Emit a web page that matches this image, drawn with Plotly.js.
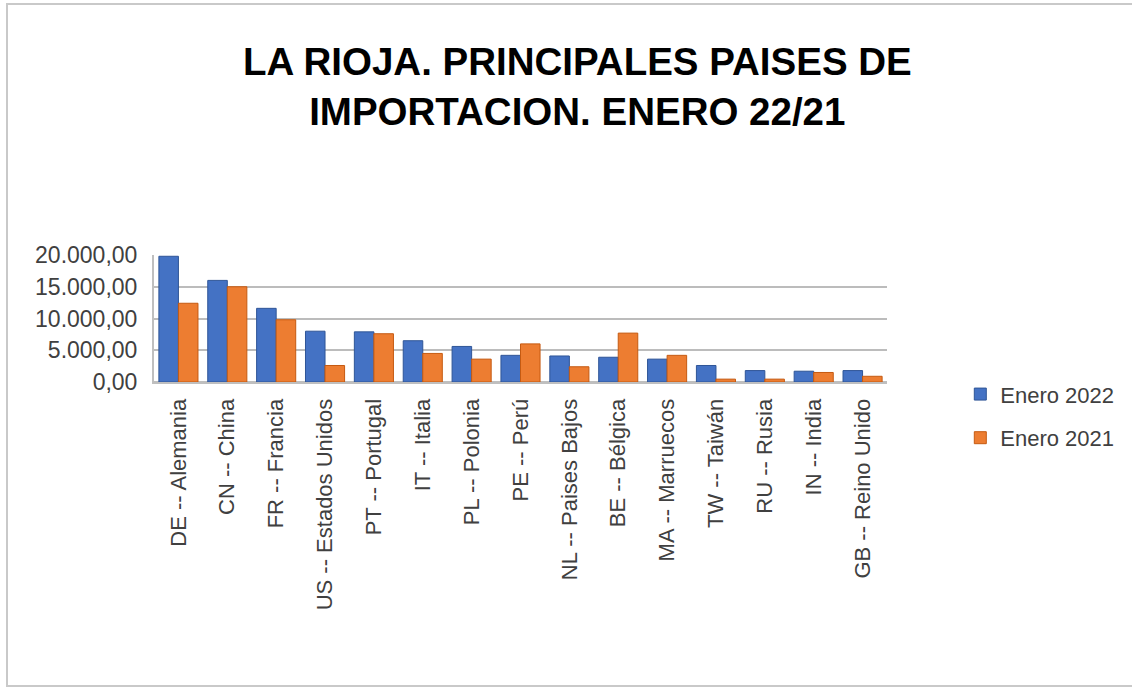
<!DOCTYPE html>
<html>
<head>
<meta charset="utf-8">
<script src="https://cdn.plot.ly/plotly-3.0.1.min.js"></script>
<style>
  html, body { margin: 0; padding: 0; background: #ffffff; }
  #chart { width: 1132px; height: 689px; }
  #frame { position: absolute; left: 6px; top: 3px; width: 1140px; height: 684px;
           border: 2px solid #c9c9c9; box-sizing: border-box; pointer-events: none; }
</style>
</head>
<body>
<div id="chart"></div>
<div id="frame"></div>
<script>
const categories = [
  "DE -- Alemania", "CN -- China", "FR -- Francia", "US -- Estados Unidos",
  "PT -- Portugal", "IT -- Italia", "PL -- Polonia", "PE -- Perú",
  "NL -- Paises Bajos", "BE -- Bélgica", "MA -- Marruecos", "TW -- Taiwán",
  "RU -- Rusia", "IN -- India", "GB -- Reino Unido"
];
const enero2022 = [19800, 16000, 11600, 8000, 7900, 6500, 5600, 4200, 4100, 3900, 3600, 2600, 1800, 1700, 1800];
const enero2021 = [12400, 15000, 9800, 2600, 7600, 4500, 3600, 6000, 2400, 7700, 4200, 450, 450, 1500, 900];
const yTicks = [0, 5000, 10000, 15000, 20000];

const textFont = "Liberation Sans, Arial, sans-serif";

const traces = [
  {
    type: "bar", name: "Enero 2022", x: categories, y: enero2022,
    marker: { color: "#4472C4", line: { color: "#2F5597", width: 1 } },
    legendgroup: "a"
  },
  {
    type: "bar", name: "Enero 2021", x: categories, y: enero2021,
    marker: { color: "#ED7D31", line: { color: "#C55A11", width: 1 } },
    legendgroup: "b"
  }
];

const layout = {
  width: 1132, height: 689,
  paper_bgcolor: "#ffffff", plot_bgcolor: "#ffffff",
  separators: ",.",
  barmode: "group", bargap: 0.2, bargroupgap: 0,
  margin: { l: 154, r: 245, t: 255, b: 307 },
  title: {
    text: "LA RIOJA. PRINCIPALES PAISES DE<br>IMPORTACION. ENERO 22/21",
    font: { family: "Liberation Sans, Arial, sans-serif", size: 38.5, color: "#000000", weight: "bold" },
    xref: "container", x: 0.51, xanchor: "center",
    yref: "container", y: 0.891, yanchor: "middle"
  },
  xaxis: {
    type: "category", tickangle: -90,
    tickfont: { family: textFont, size: 22, color: "#404040" },
    showgrid: false, showline: true, linecolor: "#bfbfbf", linewidth: 2,
    ticks: "", ticklabelstandoff: 6
  },
  yaxis: {
    range: [0, 20000], tickvals: yTicks, tickformat: ",.2f",
    tickfont: { family: textFont, size: 23, color: "#404040" },
    showgrid: true, gridcolor: "#bcbcbc", gridwidth: 2,
    zeroline: true, zerolinecolor: "#bfbfbf", zerolinewidth: 2,
    showline: true, linecolor: "#bfbfbf", linewidth: 2,
    ticks: "", ticklabelstandoff: 10
  },
  legend: {
    x: 1.1, xanchor: "left", y: -0.27, yanchor: "middle",
    font: { family: textFont, size: 22, color: "#404040" },
    traceorder: "grouped", tracegroupgap: 12,
    itemwidth: 30
  },
  showlegend: true
};

Plotly.newPlot("chart", traces, layout, { displayModeBar: false, staticPlot: true });
</script>
</body>
</html>
